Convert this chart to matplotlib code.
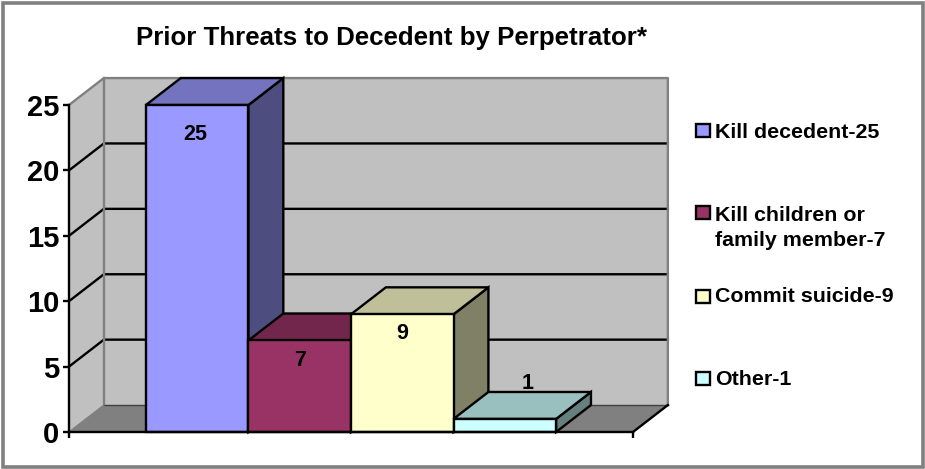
import matplotlib.pyplot as plt
from matplotlib.patches import Polygon, Rectangle

plt.rcParams['font.family'] = ['Liberation Sans', 'DejaVu Sans']
plt.rcParams['font.weight'] = 'bold'

title = 'Prior Threats to Decedent by Perpetrator*'
values = [25, 7, 9, 1]
legend_labels = ['Kill decedent-25', 'Kill children or\nfamily member-7',
                 'Commit suicide-9', 'Other-1']
y_ticks = [0, 5, 10, 15, 20, 25]

front_colors = ['#9999FF', '#993366', '#FFFFCC', '#CCFFFF']
top_colors = ['#7373BF', '#73264C', '#BFBF99', '#99BFBF']
side_colors = ['#4D4D80', '#4D1A33', '#808066', '#668080']

# depth of the fake 3d box, in data units
DX = 0.34
DY = 2.06
X0 = -0.75
X1 = 4.75
Y_TOP = 25
LW = 1.7

# label nudges, relative to the bar centre and bar top
label_dx = [-0.02, 0.0, 0.0, 0.22]
label_dy = [-2.25, -1.5, -1.5, 2.7]

swatch_y = [131, 213, 296, 378.5]
text_y = [132, 228, 297, 379.5]


def poly(ax, pts, color, edge='none', lw=0, z=1):
    ax.add_patch(Polygon(pts, closed=True, facecolor=color, edgecolor=edge,
                         linewidth=lw, clip_on=False, zorder=z,
                         joinstyle='miter'))


def draw_walls(ax):
    # side wall and back wall
    poly(ax, [(X0, 0), (X0 + DX, DY), (X0 + DX, Y_TOP + DY), (X0, Y_TOP)],
         '#C0C0C0')
    poly(ax, [(X0 + DX, DY), (X1 + DX, DY), (X1 + DX, Y_TOP + DY),
              (X0 + DX, Y_TOP + DY)], '#C0C0C0')

    for v in y_ticks[1:-1]:
        ax.plot([X0, X0 + DX, X1 + DX], [v, v + DY, v + DY], color='black',
                lw=LW, clip_on=False, zorder=1.2)

    gray = '#808080'
    ax.plot([X0, X0 + DX, X1 + DX, X1 + DX], [Y_TOP, Y_TOP + DY, Y_TOP + DY, DY],
            color=gray, lw=LW, clip_on=False, zorder=1.3)
    ax.plot([X0 + DX, X0 + DX], [DY, Y_TOP + DY], color=gray, lw=LW,
            clip_on=False, zorder=1.3)

    # floor
    poly(ax, [(X0, 0), (X1, 0), (X1 + DX, DY), (X0 + DX, DY)], gray, z=1.4)
    ax.plot([X0 + DX, X1 + DX], [DY, DY], color='#404040', lw=1,
            clip_on=False, zorder=1.5)
    ax.plot([X0, X0 + DX], [0, DY], color=gray, lw=1, clip_on=False, zorder=1.5)
    ax.plot([X1, X1 + DX], [0, DY], color='black', lw=LW, clip_on=False,
            zorder=1.5)


def draw_bars(ax):
    for i, v in enumerate(values):
        z = 3 + i
        poly(ax, [(i + 1, 0), (i + 1 + DX, DY), (i + 1 + DX, v + DY), (i + 1, v)],
             side_colors[i], 'black', LW, z)
        poly(ax, [(i, v), (i + DX, v + DY), (i + 1 + DX, v + DY), (i + 1, v)],
             top_colors[i], 'black', LW, z)
        poly(ax, [(i, 0), (i + 1, 0), (i + 1, v), (i, v)],
             front_colors[i], 'black', LW, z)
        ax.text(i + 0.5 + label_dx[i], v + label_dy[i], str(v), ha='center',
                va='center', fontsize=15.5, color='black', zorder=20)


def draw_legend(fig):
    for i, label in enumerate(legend_labels):
        fig.add_artist(Rectangle((695.5 / 925, 1 - (swatch_y[i] + 6.5) / 469),
                                 14 / 925, 13 / 469, transform=fig.transFigure,
                                 facecolor=front_colors[i], edgecolor='black',
                                 linewidth=LW))
        fig.text(715 / 925, 1 - text_y[i] / 469, label, fontsize=15.4,
                 ha='left', va='center', linespacing=1.45)


def main():
    fig = plt.figure(figsize=(9.25, 4.69), dpi=100, facecolor='white')
    ax = fig.add_axes([69 / 925, 1 - 432 / 469, (633 - 69) / 925, (432 - 105) / 469])
    ax.patch.set_visible(False)
    ax.set_xlim(X0, X1)
    ax.set_ylim(0, Y_TOP)

    draw_walls(ax)
    draw_bars(ax)

    for side in ['top', 'right']:
        ax.spines[side].set_visible(False)
    for side in ['left', 'bottom']:
        ax.spines[side].set_linewidth(LW)
        ax.spines[side].set_zorder(15)
    ax.set_xticks([X0, X1])
    ax.set_xticklabels([])
    ax.set_yticks(y_ticks)
    ax.tick_params(axis='both', length=4, width=LW)
    ax.tick_params(axis='y', labelsize=21, pad=3)

    fig.text(391.5 / 925, 1 - 38 / 469, title, fontsize=18.6, ha='center', va='center')
    draw_legend(fig)

    # chart area frame
    fig.add_artist(Rectangle((2.5 / 925, 1 - 466.5 / 469), 920.5 / 925, 463.5 / 469,
                             transform=fig.transFigure, facecolor='none',
                             edgecolor='#808080', linewidth=2.6))

    fig.savefig('out.png', dpi=100)


if "__main__" == __name__:
    main()
